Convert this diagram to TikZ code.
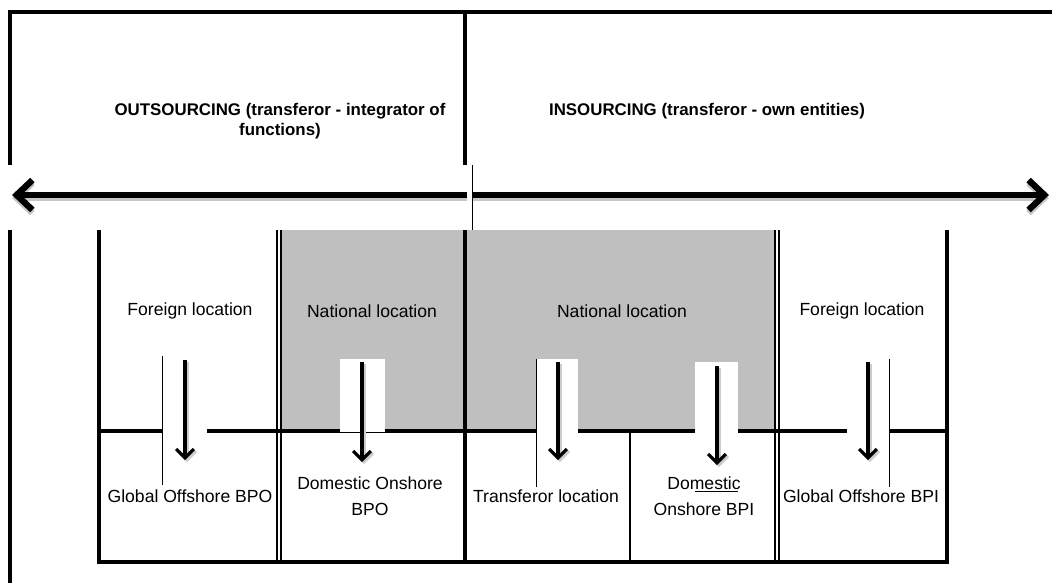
\documentclass[tikz,border=0pt]{standalone}
\usepackage{fontspec}
\setmainfont{Liberation Sans}
\usetikzlibrary{arrows.meta,positioning}

\begin{document}
\begin{tikzpicture}[x=0.02cm,y=-0.02cm]
    \tikzstyle{every node}+=[inner sep=0pt, align=center, font=\fontsize{10}{14.5}\selectfont]
    \tikzstyle{frame}=[black, line width=2.2pt]
    \tikzstyle{hair}=[black, line width=0.5pt]
    \tikzstyle{dbl}=[black, line width=0.7pt]
    \tikzstyle{title}=[font=\bfseries\fontsize{9.6}{11.4}\selectfont]
    \tikzstyle{bigarrow}=[line width=3.6pt, -{Straight Barb[length=9pt,width=17pt]}]
    \tikzstyle{downarrow}=[line width=1.8pt, -{Straight Barb[length=5pt,width=10pt]}]
    \useasboundingbox (0,0) rectangle (1052,583);
    % upper frame
    \draw [frame] (10,165) -- (10,12) -- (1052,12);
    \draw [frame] (465,12) -- (465,165);
    \draw [hair] (472,165) -- (472,230);
    \draw [frame] (10,230) -- (10,583);
    \node [title] (outs) at (280,121) {OUTSOURCING (transferor - integrator of\\functions)};
    \node [title] (ins) at (707,111) {INSOURCING (transferor - own entities)};
    % main arrow
    \coordinate (wtip) at (12,195);
    \coordinate (midl) at (467,195);
    \coordinate (midr) at (473,195);
    \coordinate (etip) at (1049,195);
    \draw [bigarrow, gray!45, transform canvas={yshift=-0.06cm}] (midl) -- (wtip);
    \draw [bigarrow, gray!45, transform canvas={yshift=-0.06cm}] (midr) -- (etip);
    \draw [bigarrow] (midl) -- (wtip);
    \draw [bigarrow] (midr) -- (etip);
    % grid
    \fill [gray!50] (280,230) rectangle (776,431);
    \draw [frame, line width=1.8pt] (99,230) -- (99,562) -- (947,562) -- (947,230);
    \draw [frame, line width=1.8pt] (99,431) -- (947,431);
    \draw [frame, line width=1.9pt] (465,230) -- (465,562);
    \draw [dbl] (277,230) -- (277,562);
    \draw [dbl] (281,230) -- (281,562);
    \draw [dbl] (775,230) -- (775,562);
    \draw [dbl] (779,230) -- (779,562);
    \draw [dbl, line width=1pt] (630,431) -- (630,562);
    % white boxes behind the arrows
    \fill [white] (162,356) rectangle (207,485);
    \draw [hair] (162,356) -- (162,485);
    \fill [white] (340,359) rectangle (385,432);
    \fill [white] (536,359) rectangle (578,487);
    \draw [hair] (536,359) -- (536,487);
    \fill [white] (695,362) rectangle (738,491);
    \draw [hair] (695,491) -- (738,491);
    \fill [white] (847,359) rectangle (889,487);
    \draw [hair] (889,359) -- (889,487);
    % locations
    \node (for1) at (190,311) {Foreign location};
    \node (nat1) at (372,311) {National location};
    \node (nat2) at (622,311) {National location};
    \node (for2) at (862,311) {Foreign location};
    \node (gbpo) at (190,496) {Global Offshore BPO};
    \node (dbpo) at (370,496) {Domestic Onshore\\BPO};
    \node (tloc) at (546,496) {Transferor location};
    \node (dbpi) at (704,496) {Domestic\\Onshore BPI};
    \node (gbpi) at (861,496) {Global Offshore BPI};
    % down arrows
    \foreach \x/\a/\b [count=\i] in {185/360/460, 362/362/462, 558/362/460, 717/366/465, 868/362/460} {
        \coordinate (s\i) at (\x,\a);
        \coordinate (e\i) at (\x,\b);
        \draw [downarrow, gray!40, transform canvas={xshift=0.04cm,yshift=-0.04cm}] (s\i) -- (e\i);
        \draw [downarrow] (s\i) -- (e\i);
    }
\end{tikzpicture}
\end{document}
